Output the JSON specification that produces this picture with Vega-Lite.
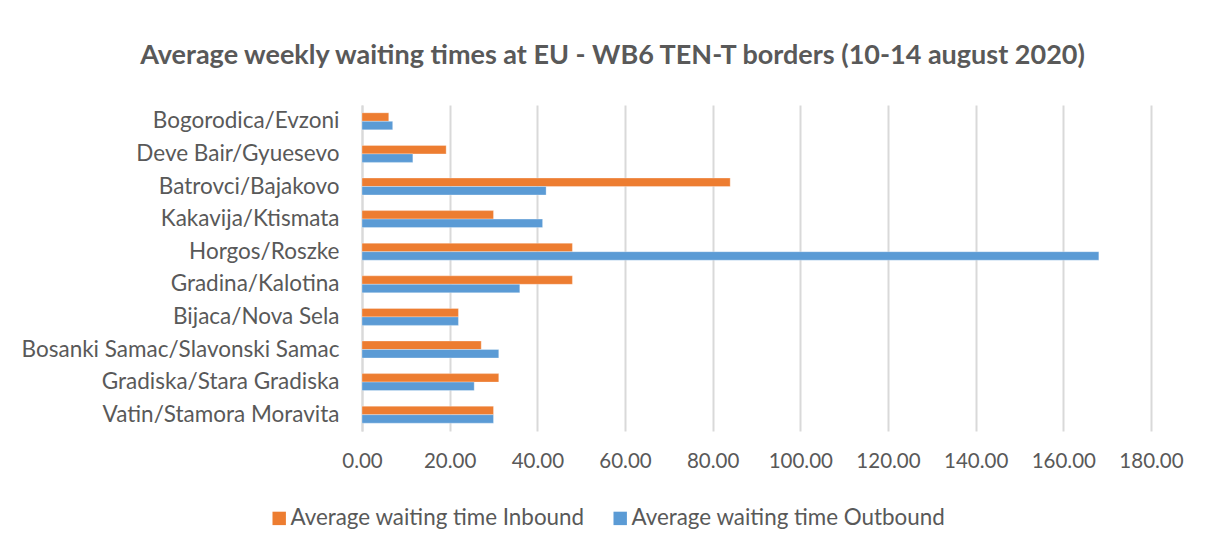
{
  "$schema": "https://vega.github.io/schema/vega-lite/v6.json",
  "width": 789,
  "height": 326,
  "autosize": {"type": "none"},
  "padding": {"left": 362, "top": 105, "right": 57, "bottom": 118},
  "background": "white",
  "title": {
    "text": "Average weekly waiting times at EU - WB6 TEN-T borders (10-14 august 2020)",
    "font": "Lato",
    "fontSize": 27,
    "fontWeight": "bold",
    "color": "#595959",
    "anchor": "middle",
    "dx": -144,
    "offset": 35
  },
  "data": {
    "values": [
      {"Border": "Bogorodica/Evzoni", "Series": "Average waiting time Inbound", "Value": 6.1},
      {"Border": "Bogorodica/Evzoni", "Series": "Average waiting time Outbound", "Value": 7.0},
      {"Border": "Deve Bair/Gyuesevo", "Series": "Average waiting time Inbound", "Value": 19.2},
      {"Border": "Deve Bair/Gyuesevo", "Series": "Average waiting time Outbound", "Value": 11.6},
      {"Border": "Batrovci/Bajakovo", "Series": "Average waiting time Inbound", "Value": 84.0},
      {"Border": "Batrovci/Bajakovo", "Series": "Average waiting time Outbound", "Value": 42.0},
      {"Border": "Kakavija/Ktismata", "Series": "Average waiting time Inbound", "Value": 30.0},
      {"Border": "Kakavija/Ktismata", "Series": "Average waiting time Outbound", "Value": 41.2},
      {"Border": "Horgos/Roszke", "Series": "Average waiting time Inbound", "Value": 48.0},
      {"Border": "Horgos/Roszke", "Series": "Average waiting time Outbound", "Value": 168.1},
      {"Border": "Gradina/Kalotina", "Series": "Average waiting time Inbound", "Value": 48.0},
      {"Border": "Gradina/Kalotina", "Series": "Average waiting time Outbound", "Value": 36.0},
      {"Border": "Bijaca/Nova Sela", "Series": "Average waiting time Inbound", "Value": 22.0},
      {"Border": "Bijaca/Nova Sela", "Series": "Average waiting time Outbound", "Value": 22.0},
      {"Border": "Bosanki Samac/Slavonski Samac", "Series": "Average waiting time Inbound", "Value": 27.2},
      {"Border": "Bosanki Samac/Slavonski Samac", "Series": "Average waiting time Outbound", "Value": 31.2},
      {"Border": "Gradiska/Stara Gradiska", "Series": "Average waiting time Inbound", "Value": 31.2},
      {"Border": "Gradiska/Stara Gradiska", "Series": "Average waiting time Outbound", "Value": 25.6},
      {"Border": "Vatin/Stamora Moravita", "Series": "Average waiting time Inbound", "Value": 30.0},
      {"Border": "Vatin/Stamora Moravita", "Series": "Average waiting time Outbound", "Value": 30.0}
    ]
  },
  "mark": {"type": "bar", "stroke": "white", "strokeWidth": 0.5, "strokeOpacity": 0.6},
  "encoding": {
    "y": {
      "field": "Border",
      "type": "nominal",
      "sort": null,
      "scale": {"paddingInner": 0.48, "paddingOuter": 0.24},
      "axis": {
        "title": null,
        "ticks": false,
        "domain": true,
        "domainColor": "#D9D9D9",
        "domainWidth": 2,
        "labelFont": "Lato",
        "labelFontSize": 22.5,
        "labelColor": "#595959",
        "labelPadding": 23,
        "labelLimit": 400
      }
    },
    "yOffset": {
      "field": "Series",
      "type": "nominal",
      "sort": ["Average waiting time Inbound", "Average waiting time Outbound"],
      "scale": {"paddingInner": 0, "paddingOuter": 0}
    },
    "x": {
      "field": "Value",
      "type": "quantitative",
      "scale": {"domain": [0, 180], "nice": false},
      "axis": {
        "title": null,
        "values": [0, 20, 40, 60, 80, 100, 120, 140, 160, 180],
        "format": ".2f",
        "ticks": false,
        "domain": false,
        "grid": true,
        "gridColor": "#D9D9D9",
        "gridWidth": 2,
        "labelFont": "Lato",
        "labelFontSize": 20.5,
        "labelColor": "#595959",
        "labelPadding": 20,
        "labelOverlap": false,
        "labelFlush": false,
        "labelBound": false
      }
    },
    "color": {
      "field": "Series",
      "type": "nominal",
      "scale": {
        "domain": ["Average waiting time Inbound", "Average waiting time Outbound"],
        "range": ["#ED7D31", "#5B9BD5"]
      },
      "legend": {
        "title": null,
        "orient": "none",
        "direction": "horizontal",
        "legendX": -94,
        "legendY": 402,
        "symbolType": "square",
        "symbolSize": 180,
        "symbolStrokeWidth": 0,
        "labelFont": "Lato",
        "labelFontSize": 22.4,
        "labelColor": "#595959",
        "labelLimit": 400,
        "labelOffset": 0,
        "columnPadding": 24
      }
    }
  },
  "config": {"view": {"stroke": null}}
}
